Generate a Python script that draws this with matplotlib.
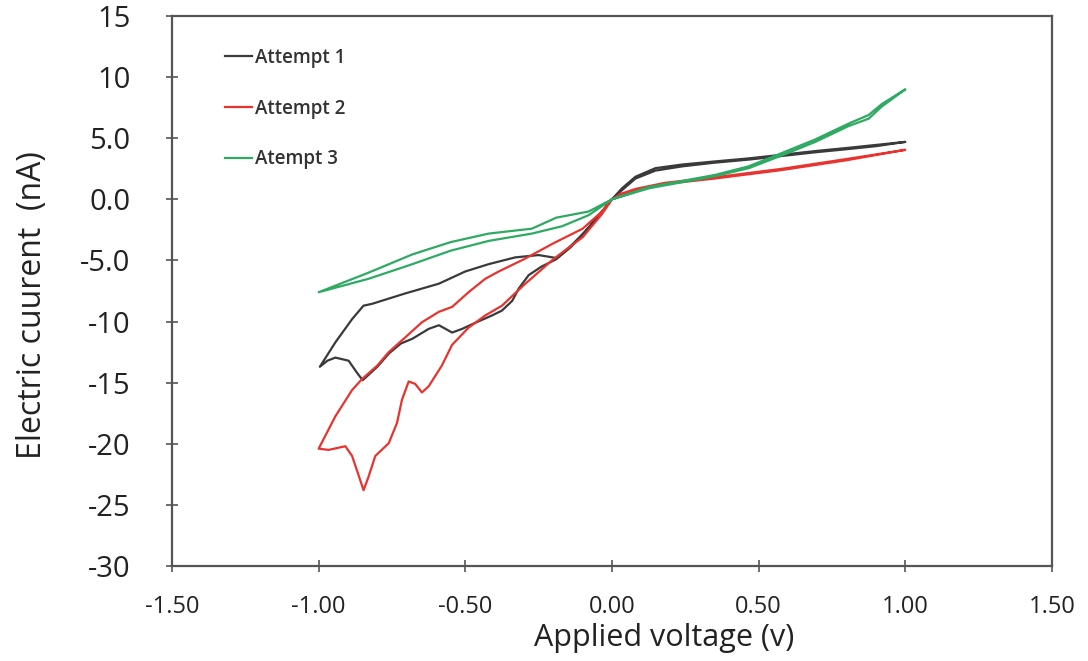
import matplotlib
matplotlib.use("Agg")
import matplotlib.pyplot as plt

# Cyclic voltammetry scans: voltage (V) and current (nA) along each scan path
attempt1_v = [0.0, 0.034, 0.08, 0.148, 0.24, 0.35, 0.466, 0.58, 0.693, 0.80, 0.90, 1.0,
              0.90, 0.80, 0.693, 0.58, 0.466, 0.35, 0.24, 0.148, 0.08, 0.034, 0.0,
              -0.034, -0.09, -0.14, -0.19, -0.25, -0.33, -0.42, -0.50, -0.59, -0.705,
              -0.818, -0.847, -0.886, -0.943, -0.996,
              -0.97, -0.943, -0.898, -0.869, -0.85, -0.80, -0.76, -0.72, -0.68, -0.625,
              -0.59, -0.545, -0.511, -0.466, -0.409, -0.375, -0.34, -0.318, -0.284,
              -0.24, -0.19, -0.14, -0.09, -0.034, 0.0]
attempt1_i = [0.0, 0.9, 1.85, 2.55, 2.85, 3.1, 3.35, 3.65, 3.95, 4.2, 4.45, 4.7,
              4.35, 4.1, 3.85, 3.55, 3.25, 3.0, 2.7, 2.35, 1.7, 0.75, 0.0,
              -1.0, -2.6, -3.8, -4.8, -4.56, -4.75, -5.3, -5.9, -6.9, -7.7,
              -8.55, -8.7, -9.8, -11.7, -13.7,
              -13.2, -12.95, -13.2, -14.2, -14.8, -13.7, -12.6, -11.8, -11.4, -10.6,
              -10.3, -10.9, -10.6, -10.1, -9.5, -9.1, -8.3, -7.3, -6.2,
              -5.5, -4.9, -3.9, -2.6, -1.0, 0.0]

attempt2_v = [0.0, 0.03, 0.08, 0.18, 0.35, 0.58, 0.80, 1.0,
              0.80, 0.58, 0.35, 0.18, 0.08, 0.03, 0.0,
              -0.034, -0.10, -0.20, -0.30, -0.386, -0.432, -0.489, -0.545, -0.59,
              -0.648, -0.705, -0.761, -0.80, -0.852, -0.886, -0.943, -1.0,
              -0.966, -0.909, -0.886, -0.858, -0.847, -0.83, -0.807, -0.761, -0.733,
              -0.716, -0.693, -0.671, -0.648, -0.625, -0.58, -0.545, -0.489, -0.432,
              -0.375, -0.30, -0.20, -0.10, -0.034, 0.0]
attempt2_i = [0.0, 0.45, 0.85, 1.35, 1.8, 2.5, 3.3, 4.05,
              3.2, 2.4, 1.7, 1.25, 0.7, 0.3, 0.0,
              -1.0, -2.4, -3.6, -4.9, -5.9, -6.5, -7.6, -8.8, -9.2,
              -10.06, -11.3, -12.5, -13.6, -14.7, -15.6, -17.75, -20.4,
              -20.5, -20.2, -21.0, -23.0, -23.8, -22.7, -21.0, -19.95, -18.3,
              -16.4, -14.9, -15.1, -15.8, -15.3, -13.6, -11.9, -10.5, -9.5,
              -8.7, -7.0, -4.9, -3.1, -1.2, 0.0]

attempt3_v = [0.0, 0.125, 0.25, 0.352, 0.466, 0.58, 0.693, 0.807, 0.875, 0.92, 1.0,
              0.92, 0.875, 0.807, 0.693, 0.58, 0.466, 0.352, 0.25, 0.125, 0.0,
              -0.08, -0.19, -0.273, -0.42, -0.55, -0.68, -0.83, -1.0,
              -0.83, -0.68, -0.55, -0.42, -0.273, -0.17, -0.08, 0.0]
attempt3_i = [0.0, 1.0, 1.55, 2.0, 2.7, 3.8, 4.9, 6.2, 6.9, 7.8, 9.0,
              7.6, 6.6, 6.0, 4.7, 3.6, 2.55, 1.9, 1.45, 0.9, 0.0,
              -1.0, -1.5, -2.4, -2.8, -3.5, -4.5, -6.0, -7.6,
              -6.5, -5.3, -4.2, -3.4, -2.8, -2.2, -1.3, 0.0]

series_labels = ["Attempt 1", "Attempt 2", "Atempt 3"]
series_colors = ["#3a3a3a", "#e8332e", "#2eaa62"]

x_ticks = [-1.5, -1.0, -0.5, 0.0, 0.5, 1.0, 1.5]
x_tick_labels = ["-1.50", "-1.00", "-0.50", "0.00", "0.50", "1.00", "1.50"]
y_ticks = [-30, -25, -20, -15, -10, -5, 0, 5, 10, 15]
y_tick_labels = ["-30", "-25", "-20", "-15", "-10", "-5.0", "0.0", "5.0", "10", "15"]

font = "Open Sans"
text_color = "#222222"

fig = plt.figure(figsize=(10.88, 6.61), dpi=100)
ax = fig.add_axes([172 / 1088, 1 - 566 / 661, 880 / 1088, 550 / 661])

for v, i, lab, col in zip([attempt1_v, attempt2_v, attempt3_v],
                          [attempt1_i, attempt2_i, attempt3_i],
                          series_labels, series_colors):
    ax.plot(v, i, color=col, lw=1.6, label=lab, solid_joinstyle="round")

ax.set_xlim(-1.5, 1.5)
ax.set_ylim(-30, 15)
ax.set_xticks(x_ticks)
ax.set_xticklabels(x_tick_labels, fontfamily=font, fontsize=17, color=text_color)
ax.set_yticks(y_ticks)
ax.set_yticklabels(y_tick_labels, fontfamily=font, fontsize=21, color=text_color)
ax.tick_params(direction="inout", length=8, width=1.2, color="#555555")
ax.tick_params(axis="x", pad=17)
ax.tick_params(axis="y", pad=26)

for s in ax.spines.values():
    s.set_color("#555555")
    s.set_linewidth(1.6)

ax.set_xlabel("Applied voltage (v)", fontfamily=font, fontsize=22, color=text_color)
ax.xaxis.set_label_coords(0.559, -0.104)
ax.set_ylabel("Electric cuurent  (nA)", fontfamily=font, fontsize=23, color=text_color)
ax.yaxis.set_label_coords(-0.140, 0.475)

leg = ax.legend(loc="upper left", bbox_to_anchor=(0.052, 0.9555), frameon=False,
                borderaxespad=0, handlelength=1.45, handletextpad=0.15, labelspacing=1.63,
                prop={"family": font, "size": 13.5, "weight": "semibold"})
for t in leg.get_texts():
    t.set_color("#333333")

fig.savefig("out.png", dpi=100, facecolor="white")
